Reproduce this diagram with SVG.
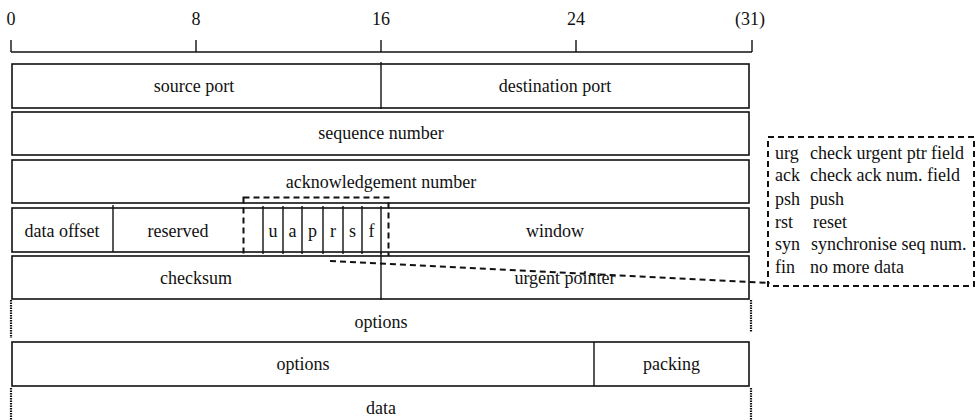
<svg xmlns="http://www.w3.org/2000/svg" width="976" height="420" viewBox="0 0 976 420" font-family="'Liberation Serif', 'Times New Roman', serif">
<style>
text{font-family:'Liberation Serif','Times New Roman',serif;font-size:18px;fill:#111;text-anchor:middle}
.lg{text-anchor:start}
.box{fill:#fff;stroke:#111;stroke-width:1.6}
.ln{stroke:#111;stroke-width:1.4;fill:none}
.dash{stroke:#111;stroke-width:2;stroke-dasharray:6 4;fill:none}
.dot{stroke:#111;stroke-width:2.2;stroke-dasharray:1.5 1;fill:none}
</style>
<rect width="976" height="420" fill="#fff"/>
<g id="ruler">
<line class="ln" x1="11" y1="52" x2="752" y2="52"/>
<line class="ln" x1="11" y1="40" x2="11" y2="52"/>
<line class="ln" x1="196" y1="40" x2="196" y2="52"/>
<line class="ln" x1="381" y1="40" x2="381" y2="52"/>
<line class="ln" x1="576" y1="40" x2="576" y2="52"/>
<line class="ln" x1="752" y1="40" x2="752" y2="52"/>
<text x="11" y="25">0</text>
<text x="196" y="25">8</text>
<text x="381" y="25">16</text>
<text x="576" y="25">24</text>
<text x="750" y="25">(31)</text>
</g>
<g id="row-ports">
<rect class="box" x="12" y="64" width="737" height="44"/>
<line class="ln" x1="381" y1="62" x2="381" y2="109"/>
<text x="194" y="92">source port</text>
<text x="555" y="92">destination port</text>
</g>
<g id="row-seq">
<rect class="box" x="12" y="112" width="737" height="43"/>
<text x="381" y="139">sequence number</text>
</g>
<g id="row-ack">
<rect class="box" x="12" y="160" width="737" height="43"/>
<text x="381" y="188">acknowledgement number</text>
</g>
<g id="row-flags">
<rect class="box" x="12" y="208" width="737" height="44"/>
<line class="ln" x1="113" y1="205" x2="113" y2="252"/>
<line class="ln" x1="263" y1="206" x2="263" y2="254"/>
<line class="ln" x1="283" y1="206" x2="283" y2="254"/>
<line class="ln" x1="302" y1="206" x2="302" y2="254"/>
<line class="ln" x1="323" y1="206" x2="323" y2="254"/>
<line class="ln" x1="343" y1="206" x2="343" y2="254"/>
<line class="ln" x1="362" y1="206" x2="362" y2="254"/>
<line class="ln" x1="381" y1="206" x2="381" y2="254"/>
<text x="62" y="237">data offset</text>
<text x="178" y="237">reserved</text>
<text x="273" y="237">u</text>
<text x="292.5" y="237">a</text>
<text x="312.5" y="237">p</text>
<text x="333" y="237">r</text>
<text x="352.5" y="237">s</text>
<text x="371.5" y="237">f</text>
<text x="555" y="237">window</text>
</g>
<g id="flags-highlight">
<rect class="dash" x="243.5" y="197.5" width="145" height="63"/>
</g>
<g id="row-checksum">
<rect class="box" x="12" y="256" width="737" height="43"/>
<line class="ln" x1="381" y1="253" x2="381" y2="300"/>
<text x="196" y="284">checksum</text>
<text x="565" y="284">urgent pointer</text>
</g>
<g id="row-options">
<line class="dot" x1="11" y1="300" x2="11" y2="338"/>
<line class="dot" x1="751" y1="300" x2="751" y2="332"/>
<text x="381" y="328">options</text>
</g>
<g id="row-options-packing">
<rect class="box" x="12" y="342" width="737" height="44"/>
<line class="ln" x1="594" y1="342" x2="594" y2="386"/>
<text x="303" y="370">options</text>
<text x="671.5" y="370">packing</text>
</g>
<g id="row-data">
<line class="dot" x1="11" y1="388" x2="11" y2="420"/>
<line class="dot" x1="751" y1="388" x2="751" y2="420"/>
<text x="381" y="414">data</text>
</g>
<g id="legend">
<rect class="dash" x="768" y="137" width="206" height="149"/>
<text class="lg" x="775" y="159">urg</text><text class="lg" x="810" y="159">check urgent ptr field</text>
<text class="lg" x="775" y="181">ack</text><text class="lg" x="810" y="181">check ack num. field</text>
<text class="lg" x="775" y="205">psh</text><text class="lg" x="810" y="205">push</text>
<text class="lg" x="775" y="228">rst</text><text class="lg" x="813" y="228">reset</text>
<text class="lg" x="775" y="250">syn</text><text class="lg" x="811" y="250">synchronise seq num.</text>
<text class="lg" x="775" y="273">fin</text><text class="lg" x="810" y="273">no more data</text>
</g>
<g id="connectors">
<line class="dash" x1="330" y1="261" x2="770" y2="283"/>
</g>
</svg>
